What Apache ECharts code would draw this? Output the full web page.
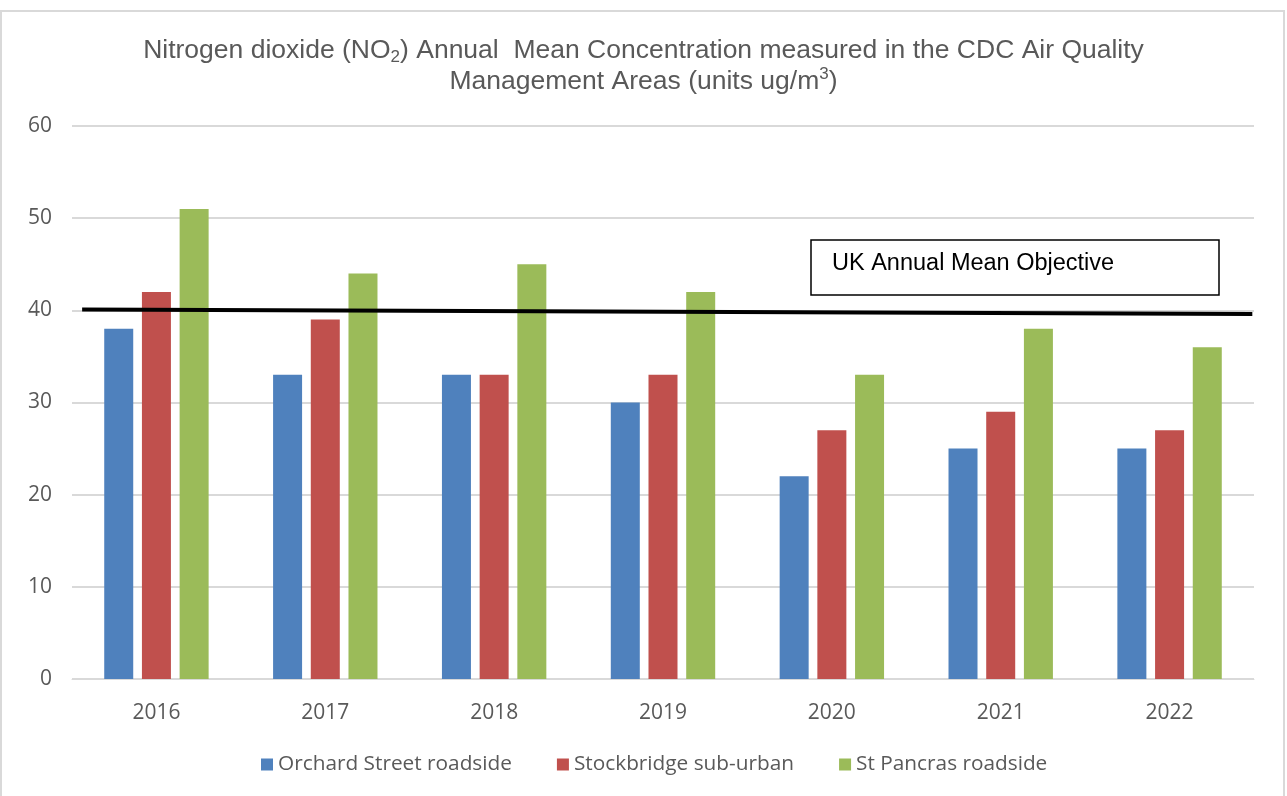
<!DOCTYPE html>
<html>
<head>
<meta charset="utf-8">
<script src="https://cdn.jsdelivr.net/npm/echarts@6/dist/echarts.min.js"></script>
<style>
html,body{margin:0;padding:0;background:#fff;}
#chart{width:1287px;height:796px;}
</style>
</head>
<body>
<div id="chart"></div>
<script>
const categories = ['2016','2017','2018','2019','2020','2021','2022'];
const orchardStreet = [38, 33, 33, 30, 22, 25, 25];
const stockbridge = [42, 39, 33, 33, 27, 29, 27];
const stPancras = [51, 44, 45, 42, 33, 38, 36];
const seriesNames = ['Orchard Street roadside', 'Stockbridge sub-urban', 'St Pancras roadside'];
const objectiveLine = [[0.06, 40.1], [6.99, 39.6]];
const objectiveLabel = 'UK Annual Mean Objective';
const yTicks = {min: 0, max: 60, interval: 10};

const chart = echarts.init(document.getElementById('chart'));
const axisFont = 'Open Sans';
const option = {
  backgroundColor: '#fff',
  animation: false,
  title: {
    text: 'Nitrogen dioxide (NO{sub|2}) Annual  Mean Concentration measured in the CDC Air Quality\nManagement Areas (units ug/m{sup|3})',
    left: 'center',
    top: 30,
    textStyle: {
      fontFamily: 'Liberation Sans',
      fontSize: 26.5,
      fontWeight: 'normal',
      color: '#595959',
      lineHeight: 31,
      rich: {
        sub: {fontSize: 17, verticalAlign: 'bottom', padding: [10, 0, 0, 0], color: '#595959', fontFamily: 'Liberation Sans'},
        sup: {fontSize: 17, verticalAlign: 'top', padding: [0, 0, 10, 0], color: '#595959', fontFamily: 'Liberation Sans'}
      }
    }
  },
  grid: {left: 72, right: 33, top: 126, bottom: 117, containLabel: false},
  legend: {
    top: 749,
    left: 256,
    itemWidth: 12,
    itemHeight: 12,
    itemGap: 45,
    icon: 'rect',
    textStyle: {fontFamily: axisFont, fontSize: 20.8, color: '#595959'},
    data: seriesNames
  },
  xAxis: [{
    type: 'category',
    data: categories,
    axisLine: {lineStyle: {color: '#d9d9d9', width: 1}},
    axisTick: {show: false},
    axisLabel: {fontFamily: axisFont, fontSize: 21, color: '#595959', margin: 24}
  }, {
    type: 'value',
    min: 0,
    max: 7,
    show: false
  }],
  yAxis: {
    type: 'value',
    min: yTicks.min,
    max: yTicks.max,
    interval: yTicks.interval,
    axisLine: {show: false},
    axisTick: {show: false},
    splitLine: {lineStyle: {color: '#d9d9d9', width: 2}},
    axisLabel: {fontFamily: axisFont, fontSize: 21, color: '#595959', margin: 20}
  },
  series: [
    {name: seriesNames[0], type: 'bar', data: orchardStreet, barWidth: 29, barGap: '30%', itemStyle: {color: '#4F81BD'}},
    {name: seriesNames[1], type: 'bar', data: stockbridge, barWidth: 29, barGap: '30%', itemStyle: {color: '#C0504D'}},
    {name: seriesNames[2], type: 'bar', data: stPancras, barWidth: 29, barGap: '30%', itemStyle: {color: '#9BBB59'}},
    {
      name: 'objective', type: 'line', xAxisIndex: 1, data: objectiveLine,
      symbol: 'none', lineStyle: {color: '#000', width: 4}, z: 5, silent: true
    }
  ],
  graphic: [
    {
      type: 'rect', shape: {x: 1, y: 11, width: 1283, height: 800},
      style: {fill: 'none', stroke: '#d9d9d9', lineWidth: 2}, silent: true, z: -1
    },
    {
      type: 'rect', shape: {x: 811, y: 240, width: 408, height: 55},
      style: {fill: '#fff', stroke: '#000', lineWidth: 1.5}, z: 10
    },
    {
      type: 'text', left: 832, top: 252,
      style: {text: objectiveLabel, fontFamily: 'Liberation Sans', fontSize: 23.5, fill: '#000'}, z: 11
    }
  ]
};
chart.setOption(option);
</script>
</body>
</html>
